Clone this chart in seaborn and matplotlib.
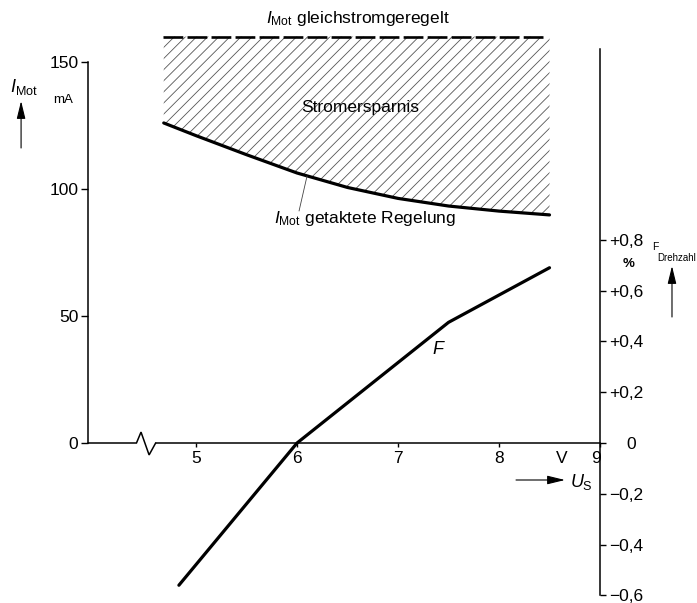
import matplotlib
matplotlib.use("Agg")
import matplotlib.pyplot as plt
import seaborn as sns
from matplotlib import font_manager
from matplotlib.transforms import ScaledTranslation

# ---- data ----
us_gleich = [4.67, 8.45]                      # V
imot_gleich = [160, 160]                      # mA, I_Mot gleichstromgeregelt
us_takt = [4.68, 5.0, 5.5, 6.0, 6.5, 7.0, 7.5, 8.0, 8.5]
imot_takt = [126, 121, 113.5, 106.3, 100.6, 96.3, 93.3, 91.3, 89.8]   # mA
us_f = [4.83, 6.0, 7.5, 8.5]
f_drehzahl = [-0.56, 0.0, 0.475, 0.69]        # %
x_ticks = [5, 6, 7, 8, 9]
x_labels = ["5", "6", "7", "8", "9"]
i_ticks = [0, 50, 100, 150]
i_labels = ["0", "50", "100", "150"]
f_ticks = [-0.6, -0.4, -0.2, 0, 0.2, 0.4, 0.6, 0.8]
f_labels = ["\u22120,6", "\u22120,4", "\u22120,2", "0", "+0,2", "+0,4", "+0,6", "+0,8"]

sns.set_theme(style="white")
names = {f.name for f in font_manager.fontManager.ttflist}
fam = "Liberation Sans Narrow" if "Liberation Sans Narrow" in names else "Liberation Sans"
plt.rcParams["font.family"] = [fam, "DejaVu Sans"]
plt.rcParams["mathtext.fontset"] = "custom"
plt.rcParams["mathtext.rm"] = fam
plt.rcParams["mathtext.it"] = fam + ":italic"
plt.rcParams["mathtext.bf"] = fam + ":bold"
plt.rcParams["hatch.linewidth"] = 0.6
plt.rcParams["hatch.color"] = "#555555"

W, H = 697, 603
fig = plt.figure(figsize=(W / 100, H / 100), dpi=100)
fig.patch.set_facecolor("white")
ax = fig.add_axes([88 / W, (H - 595.4) / H, 512 / W, 571.5 / H])
ax.set_xlim(3.93, 9.0)
ax.set_ylim(-60, 165)
ax2 = ax.twinx()
ax2.set_ylim(-0.60, 1.65)


def X(px):
    return 5 + (px - 195) / 101.0


def Y(py):
    return (443 - py) / 2.54


# spines
for s in ["top", "right"]:
    ax.spines[s].set_visible(False)
for s in ["top", "left", "bottom"]:
    ax2.spines[s].set_visible(False)
ax.spines["left"].set_bounds(0, 150)
ax.spines["bottom"].set_position(("data", 0))
ax.spines["bottom"].set_bounds(4.60, 9.0)
ax2.spines["right"].set_bounds(-0.6, 1.55)
for sp in [ax.spines["left"], ax.spines["bottom"], ax2.spines["right"]]:
    sp.set_color("black")
    sp.set_linewidth(1.1)

# axis break on the U_S axis
ax.plot([3.93, 4.41, 4.455, 4.535, 4.60], [0, 0, 4.3, -4.7, 0],
        color="black", lw=1.1, clip_on=False, solid_joinstyle="miter")

# hatched area (Stromersparnis)
ax.fill_between(us_takt, imot_takt, imot_gleich[0], facecolor="none",
                hatch="///", edgecolor="#555555", linewidth=0)

# curves
sns.lineplot(x=us_gleich, y=imot_gleich, ax=ax, color="black", lw=1.9,
             linestyle=(0, (7.5, 1.6)), clip_on=False)
sns.lineplot(x=us_takt, y=imot_takt, ax=ax, color="black", lw=2.3)
sns.lineplot(x=us_f, y=f_drehzahl, ax=ax2, color="black", lw=2.3)

# ticks
ax.set_xticks(x_ticks, x_labels)
ax.set_yticks(i_ticks, i_labels)
ax.tick_params(axis="x", bottom=True, direction="out", length=3, width=1,
               pad=3, labelsize=12.5, colors="black")
ax.tick_params(axis="y", left=True, direction="out", length=5, width=1,
               pad=2, labelsize=12.5, colors="black")
ax2.set_yticks(f_ticks, f_labels)
ax2.tick_params(axis="y", right=True, direction="out", length=4.5, width=1,
                pad=2, labelsize=12.5, colors="black")
ax.set_xlabel("")
ax.set_ylabel("")
ax2.set_ylabel("")

# nudge a few tick labels as in the reference
for lbl in ax.xaxis.get_majorticklabels():
    if lbl.get_text() == "9":
        lbl.set_transform(lbl.get_transform() +
                          ScaledTranslation(-4 / 100, 0, fig.dpi_scale_trans))
for lbl in ax2.yaxis.get_majorticklabels():
    if lbl.get_text() == "0":
        lbl.set_transform(lbl.get_transform() +
                          ScaledTranslation(17 / 100, 0, fig.dpi_scale_trans))

# texts
ax.text(X(357), Y(23), r"$I_{\mathrm{Mot}}$ gleichstromgeregelt", ha="center",
        va="baseline", fontsize=12.5, color="black")
ax.text(X(359), Y(112), "Stromersparnis", ha="center", va="baseline",
        fontsize=12.5, color="black")
ax.text(X(273), Y(223), r"$I_{\mathrm{Mot}}$ getaktete Regelung", ha="left",
        va="baseline", fontsize=12.5, color="black")
ax.plot([X(298), X(306)], [Y(211), Y(176)], color="#444444", lw=0.6)
ax.text(X(437), Y(350), "F", ha="center", va="center", fontsize=13,
        style="italic", color="black")
ax.text(X(561), Y(451), "V", ha="center", va="top", fontsize=12.5, color="black")
ax.annotate("", xy=(X(564), Y(480)), xytext=(X(515), Y(480)),
            arrowprops=dict(arrowstyle="-|>,head_length=0.9,head_width=0.22",
                            lw=0.8, color="black", shrinkA=0, shrinkB=0),
            annotation_clip=False)
ax.text(X(569), Y(482), r"$U_{\mathrm{S}}$", ha="left", va="center",
        fontsize=13, color="black")

# left axis label
ax.text(X(9), Y(92), r"$I_{\mathrm{Mot}}$", ha="left", va="baseline",
        fontsize=13, color="black")
ax.text(X(52), Y(103), "mA", ha="left", va="baseline", fontsize=9.5,
        color="black")
ax.annotate("", xy=(X(20), Y(101)), xytext=(X(20), Y(148)),
            arrowprops=dict(arrowstyle="-|>,head_length=0.9,head_width=0.22",
                            lw=0.8, color="black", shrinkA=0, shrinkB=0),
            annotation_clip=False)

# right axis label
ax.text(X(628), Y(264), "%", ha="center", va="center", fontsize=9.5,
        fontweight="bold", color="black")
ax.text(X(651), Y(247), "F", ha="left", va="center", fontsize=7.5, color="black")
ax.text(X(656), Y(258), "Drehzahl", ha="left", va="center", fontsize=7,
        color="black")
ax.annotate("", xy=(X(671), Y(266)), xytext=(X(671), Y(317)),
            arrowprops=dict(arrowstyle="-|>,head_length=0.9,head_width=0.22",
                            lw=0.8, color="black", shrinkA=0, shrinkB=0),
            annotation_clip=False)

fig.savefig("out.png", dpi=100, facecolor="white")
